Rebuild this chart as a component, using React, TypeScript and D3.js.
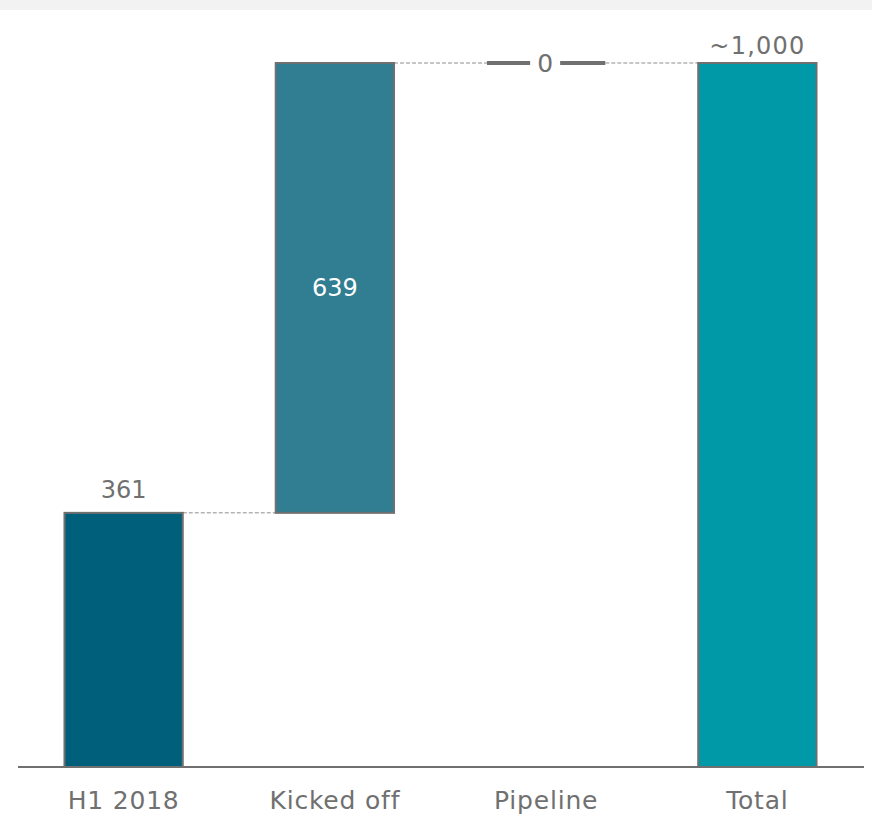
import React, {useEffect, useRef} from "react";
import * as d3 from 'd3';

const WIDTH = 872;
const HEIGHT = 827;

// waterfall steps
const categories = ["H1 2018", "Kicked off", "Pipeline", "Total"];
const stepValues = [361, 639, 0, 1000];
const kinds = ["start", "delta", "delta", "total"];
const valueLabels = ["361", "639", "0", "~1,000"];
const barColors = ["#005f7a", "#317e92", "#317e92", "#0099a7"];

const TEXT_GRAY = "#707070";
const FONT = "'DejaVu Sans', Verdana, sans-serif";

export default function App() {
    const svgRef = useRef(null);

    useEffect(() => {
        document.body.style.margin = "0";

        const svg = d3.select(svgRef.current);
        svg.selectAll('*').remove();

        // top grey strip
        svg.append('rect')
            .attr('x', 0).attr('y', 0)
            .attr('width', WIDTH).attr('height', 10)
            .attr('fill', '#f2f2f2');

        const xScale = d3.scaleBand()
            .domain(categories)
            .range([18, 863])
            .paddingInner(0.44)
            .paddingOuter(0.22);
        const yScale = d3.scaleLinear()
            .domain([0, 1000])
            .range([767, 63]);

        // running bases for the waterfall
        let running = 0;
        const steps = categories.map((c, i) => {
            let lo, hi;
            if (kinds[i] === "delta") {
                lo = running;
                hi = running + stepValues[i];
            } else {
                lo = 0;
                hi = stepValues[i];
            }
            running = hi;
            return {cat: c, lo, hi, kind: kinds[i], label: valueLabels[i], color: barColors[i], v: stepValues[i]};
        });

        const bw = xScale.bandwidth();

        // dashed connectors
        const connG = svg.append('g');
        steps.slice(0, -1).forEach((s, i) => {
            const next = steps[i + 1];
            connG.append('line')
                .attr('x1', (xScale(s.cat) as number) + bw)
                .attr('x2', xScale(next.cat) as number)
                .attr('y1', yScale(s.hi))
                .attr('y2', yScale(s.hi))
                .attr('stroke', '#b4b4b4')
                .attr('stroke-width', 1.5)
                .attr('stroke-dasharray', '4,2');
        });

        const barsG = svg.append('g');
        steps.forEach((s) => {
            const x0 = xScale(s.cat) as number;
            if (s.v === 0) {
                // zero step: flat line with a gap for the label
                const y = yScale(s.hi);
                const cx = x0 + bw / 2;
                barsG.append('line')
                    .attr('x1', x0).attr('x2', cx - 16)
                    .attr('y1', y).attr('y2', y)
                    .attr('stroke', TEXT_GRAY).attr('stroke-width', 4);
                barsG.append('line')
                    .attr('x1', cx + 14).attr('x2', x0 + bw)
                    .attr('y1', y).attr('y2', y)
                    .attr('stroke', TEXT_GRAY).attr('stroke-width', 4);
                barsG.append('text')
                    .attr('x', cx - 1)
                    .attr('y', y + 9)
                    .attr('text-anchor', 'middle')
                    .style('font-family', FONT)
                    .style('font-size', '25px')
                    .attr('fill', TEXT_GRAY)
                    .text(s.label);
                return;
            }
            barsG.append('rect')
                .attr('x', x0)
                .attr('y', yScale(s.hi))
                .attr('width', bw)
                .attr('height', yScale(s.lo) - yScale(s.hi))
                .attr('fill', s.color)
                .attr('stroke', TEXT_GRAY)
                .attr('stroke-width', 2);

            const t = barsG.append('text')
                .attr('x', x0 + bw / 2)
                .attr('text-anchor', 'middle')
                .style('font-family', FONT)
                .style('font-size', '24px')
                .text(s.label);
            if (s.kind === "delta") {
                t.attr('y', (yScale(s.lo) + yScale(s.hi)) / 2 + 8)
                    .attr('fill', '#ffffff');
            } else {
                t.attr('y', yScale(s.hi) - (s.kind === "total" ? 9 : 15))
                    .attr('fill', TEXT_GRAY)
                    .style('letter-spacing', s.kind === "total" ? '1.2px' : '0px');
            }
        });

        // baseline
        svg.append('line')
            .attr('x1', 18).attr('x2', 864)
            .attr('y1', yScale(0)).attr('y2', yScale(0))
            .attr('stroke', TEXT_GRAY)
            .attr('stroke-width', 2);

        // category labels
        svg.append('g')
            .selectAll('text')
            .data(categories)
            .enter()
            .append('text')
            .attr('x', (d) => (xScale(d) as number) + bw / 2)
            .attr('y', 809)
            .attr('text-anchor', 'middle')
            .style('font-family', FONT)
            .style('font-size', '25px')
            .style('letter-spacing', '0.8px')
            .attr('fill', TEXT_GRAY)
            .text((d) => d);
    }, []);

    return (
        <svg ref={svgRef} width={WIDTH} height={HEIGHT} style={{display: 'block'}}/>
    );
}
